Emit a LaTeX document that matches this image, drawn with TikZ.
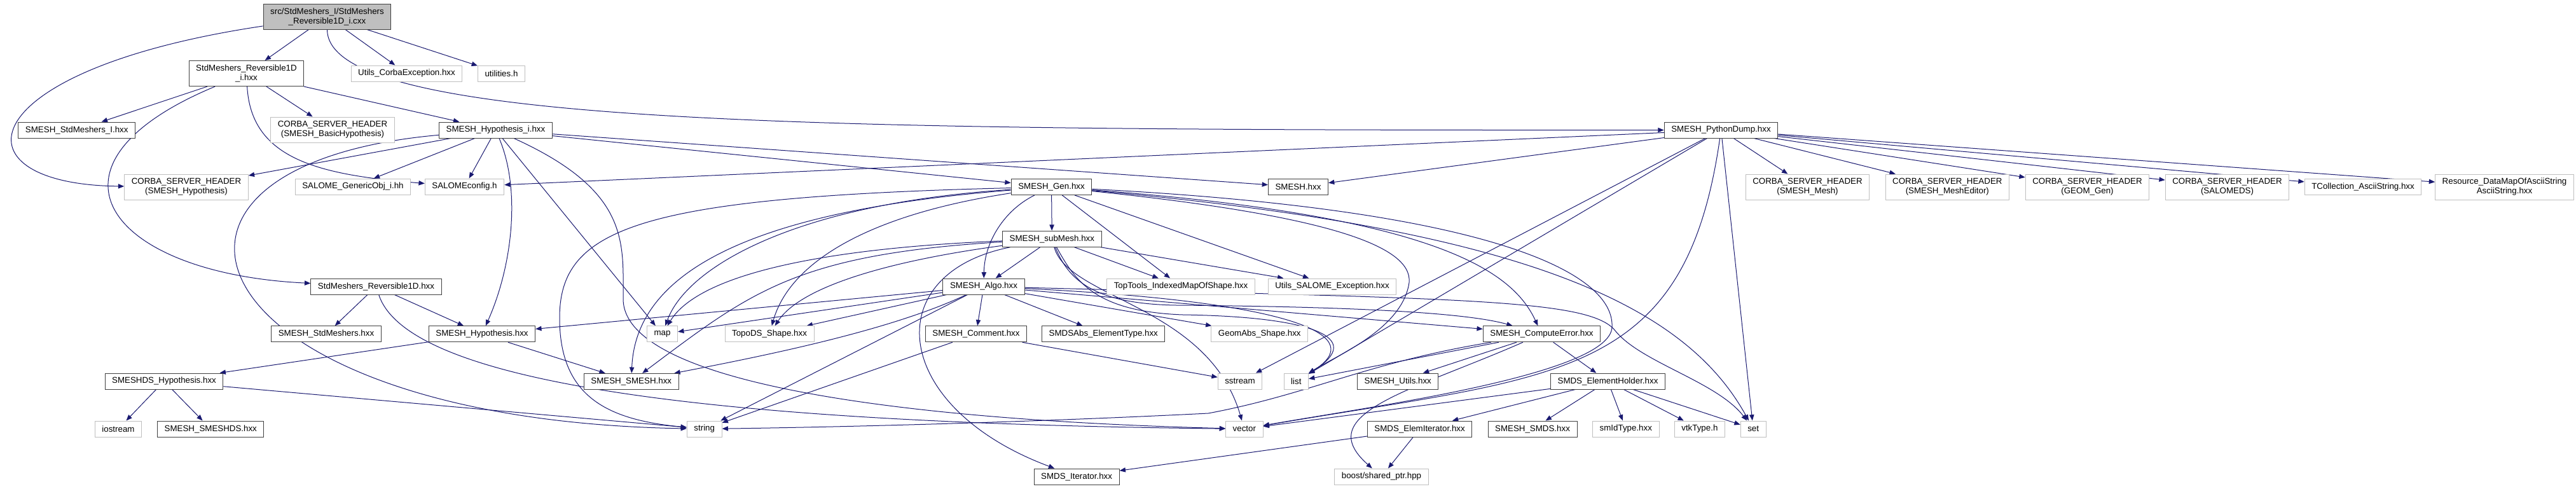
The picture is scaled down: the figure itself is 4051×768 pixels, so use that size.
\documentclass[tikz,border=0pt]{standalone}
\usepackage{fontspec}
\setmainfont{Liberation Sans}
\usetikzlibrary{arrows.meta,backgrounds}

\definecolor{edgeblue}{HTML}{191970}
\definecolor{boxgray}{HTML}{BFBFBF}
\definecolor{boxdark}{HTML}{404040}

\tikzstyle{hdrfile} = [rectangle, draw=boxdark, fill=white, line width=0.75pt, font=\fontsize{10}{11.25}\selectfont, align=center, inner xsep=8.3pt, inner ysep=1pt, minimum height=18.75pt]
\tikzstyle{extfile} = [hdrfile, draw=boxgray]
\tikzstyle{srcfile} = [hdrfile, fill=boxgray]
\tikzstyle{twoline} = [minimum height=30pt]
\tikzstyle{arrow} = [->, >={Triangle[length=7pt,width=5.5pt]}, draw=edgeblue, line width=0.75pt]

\begin{document}
\begin{tikzpicture}[x=0.75pt, y=-0.75pt]
	\useasboundingbox (0,0) rectangle (4051,768);

	\node (cxx) [srcfile, twoline] at (514.5,26) {src/StdMeshers\_I/StdMeshers\\\_Reversible1D\_i.cxx};

	\node (revI) [hdrfile, twoline] at (387.5,115.5) {StdMeshers\_Reversible1D\\\_i.hxx};
	\node (corbaExc) [extfile] at (639.5,115.5) {Utils\_CorbaException.hxx};
	\node (utilities) [extfile] at (788.5,115.5) {utilities.h};

	\node (stdMeshersI) [hdrfile] at (120.75,204.5) {SMESH\_StdMeshers\_I.hxx};
	\node (corbaBasicHyp) [extfile, twoline] at (523,204) {CORBA\_SERVER\_HEADER\\(SMESH\_BasicHypothesis)};
	\node (hypI) [hdrfile] at (779.5,204.5) {SMESH\_Hypothesis\_i.hxx};
	\node (pyDump) [hdrfile] at (2706.5,204.5) {SMESH\_PythonDump.hxx};

	\node (corbaHyp) [extfile, twoline] at (293,294) {CORBA\_SERVER\_HEADER\\(SMESH\_Hypothesis)};
	\node (genericObj) [extfile] at (555,293.5) {SALOME\_GenericObj\_i.hh};
	\node (salomeConfig) [extfile] at (730.5,293.5) {SALOMEconfig.h};
	\node (gen) [hdrfile] at (1653.5,294) {SMESH\_Gen.hxx};
	\node (smeshH) [hdrfile] at (2041.5,294) {SMESH.hxx};
	\node (corbaMesh) [extfile, twoline] at (2842.5,294) {CORBA\_SERVER\_HEADER\\(SMESH\_Mesh)};
	\node (corbaEditor) [extfile, twoline] at (3062.3,294) {CORBA\_SERVER\_HEADER\\(SMESH\_MeshEditor)};
	\node (corbaGeom) [extfile, twoline] at (3282.5,294) {CORBA\_SERVER\_HEADER\\(GEOM\_Gen)};
	\node (corbaSalomeDS) [extfile, twoline] at (3502.5,294) {CORBA\_SERVER\_HEADER\\(SALOMEDS)};
	\node (tColl) [extfile] at (3716,294) {TCollection\_AsciiString.hxx};
	\node (resource) [extfile, twoline] at (3938.5,294) {Resource\_DataMapOfAsciiString\\AsciiString.hxx};

	\node (subMesh) [hdrfile] at (1654.3,375.75) {SMESH\_subMesh.hxx};

	\node (rev) [hdrfile] at (591.5,450.5) {StdMeshers\_Reversible1D.hxx};
	\node (algo) [hdrfile] at (1547,450.5) {SMESH\_Algo.hxx};
	\node (topTools) [extfile] at (1857,450.5) {TopTools\_IndexedMapOfShape.hxx};
	\node (salomeExc) [extfile] at (2095,450.5) {Utils\_SALOME\_Exception.hxx};

	\node (stdMeshers) [hdrfile] at (513,525.3) {SMESH\_StdMeshers.hxx};
	\node (hyp) [hdrfile] at (758,525.3) {SMESH\_Hypothesis.hxx};
	\node (map) [extfile] at (1041.5,525.3) {map};
	\node (topoDS) [extfile] at (1210,525.3) {TopoDS\_Shape.hxx};
	\node (comment) [hdrfile] at (1535,525.3) {SMESH\_Comment.hxx};
	\node (elemType) [hdrfile] at (1735.3,525.3) {SMDSAbs\_ElementType.hxx};
	\node (geomAbs) [extfile] at (1980.8,525.3) {GeomAbs\_Shape.hxx};
	\node (computeError) [hdrfile] at (2424.5,525.3) {SMESH\_ComputeError.hxx};

	\node (dsHyp) [hdrfile] at (258,599.5) {SMESHDS\_Hypothesis.hxx};
	\node (smeshSmesh) [hdrfile] at (992.75,599.85) {SMESH\_SMESH.hxx};
	\node (sstream) [extfile] at (1950,599.5) {sstream};
	\node (list) [extfile] at (2038.3,599.5) {list};
	\node (utils) [hdrfile] at (2198.25,599.5) {SMESH\_Utils.hxx};
	\node (elemHolder) [hdrfile] at (2528.5,599.5) {SMDS\_ElementHolder.hxx};

	\node (iostream) [extfile] at (186,674.5) {iostream};
	\node (smeshDS) [hdrfile] at (331.3,674.5) {SMESH\_SMESHDS.hxx};
	\node (string) [extfile] at (1107.75,674.5) {string};
	\node (vector) [extfile] at (1956.8,674.5) {vector};
	\node (elemIter) [hdrfile] at (2232.6,674.5) {SMDS\_ElemIterator.hxx};
	\node (smeshSMDS) [hdrfile] at (2410,674.5) {SMESH\_SMDS.hxx};
	\node (smIdType) [extfile] at (2556.8,674.5) {smIdType.hxx};
	\node (vtkType) [extfile] at (2672.85,674.5) {vtkType.h};
	\node (set) [extfile] at (2757.15,674.5) {set};

	\node (smdsIter) [hdrfile] at (1693.1,749.5) {SMDS\_Iterator.hxx};
	\node (boost) [extfile] at (2172.5,749.5) {boost/shared\_ptr.hpp};

	\begin{scope}[on background layer]
	\draw [arrow] (cxx) -- (revI);
	\draw [arrow] (cxx) .. controls (-50,110) and (-80,290) .. (corbaHyp);
	\draw [arrow] (cxx) -- (corbaExc);
	\draw [arrow] (cxx) -- (utilities);
	\draw [arrow] (cxx) .. controls (515,200) and (1300,205) .. (pyDump);

	\draw [arrow] (revI) -- (stdMeshersI);
	\draw [arrow] (revI) -- (corbaBasicHyp);
	\draw [arrow] (revI) -- (hypI);
	\draw [arrow] (revI) .. controls (40,260) and (170,430) .. (rev);
	\draw [arrow] (revI) .. controls (395,250) and (500,275) .. (salomeConfig);

	\draw [arrow] (hypI) -- (corbaHyp);
	\draw [arrow] (hypI) .. controls (150,260) and (300,660) .. (string);
	\draw [arrow] (hypI) -- (genericObj);
	\draw [arrow] (hypI) -- (salomeConfig);
	\draw [arrow] (hypI) .. controls (820,300) and (805,420) .. (hyp);
	\draw [arrow] (hypI) -- (map);
	\draw [arrow] (hypI) .. controls (990,300) and (980,380) .. (980,470) .. controls (980,600) and (1400,660) .. (vector);
	\draw [arrow] (hypI) -- (smeshH);
	\draw [arrow] (hypI) -- (gen);

	\draw [arrow] (pyDump) -- (salomeConfig);
	\draw [arrow] (pyDump) -- (smeshH);
	\draw [arrow] (pyDump) -- (corbaMesh);
	\draw [arrow] (pyDump) -- (corbaEditor);
	\draw [arrow] (pyDump) -- (corbaGeom);
	\draw [arrow] (pyDump) -- (corbaSalomeDS);
	\draw [arrow] (pyDump) -- (tColl);
	\draw [arrow] (pyDump) -- (resource);
	\draw [arrow] (pyDump) -- (sstream);
	\draw [arrow] (pyDump) -- (list);
	\draw [arrow] (pyDump) .. controls (2650,600) and (2450,590) .. (vector);
	\draw [arrow] (pyDump) -- (set);

	\draw [arrow] (gen) -- (subMesh);
	\draw [arrow] (gen) .. controls (1580,330) and (1548,380) .. (algo);
	\draw [arrow] (gen) -- (topTools);
	\draw [arrow] (gen) -- (salomeExc);
	\draw [arrow] (gen) .. controls (2270,340) and (2380,430) .. (computeError);
	\draw [arrow] (gen) .. controls (2400,360) and (2650,480) .. (set);
	\draw [arrow] (gen) .. controls (2100,340) and (2230,390) .. (2215,450) .. controls (2200,520) and (2100,560) .. (list);
	\draw [arrow] (gen) .. controls (2350,330) and (2540,430) .. (2535,515) .. controls (2530,590) and (2150,640) .. (vector);
	\draw [arrow] (gen) .. controls (1250,320) and (1080,420) .. (map);
	\draw [arrow] (gen) .. controls (1000,310) and (880,360) .. (880,500) .. controls (880,620) and (950,660) .. (string);
	\draw [arrow] (gen) .. controls (1350,340) and (1240,420) .. (topoDS);
	\draw [arrow] (gen) .. controls (1200,330) and (1000,420) .. (smeshSmesh);

	\draw [arrow] (subMesh) -- (algo);
	\draw [arrow] (subMesh) -- (topTools);
	\draw [arrow] (subMesh) -- (salomeExc);
	\draw [arrow] (subMesh) .. controls (1680,440) and (1720,478) .. (1850,480) .. controls (2100,482) and (2300,490) .. (computeError);
	\draw [arrow] (subMesh) .. controls (1300,390) and (1100,430) .. (map);
	\draw [arrow] (subMesh) .. controls (1400,410) and (1260,450) .. (topoDS);
	\draw [arrow] (subMesh) .. controls (1250,400) and (1180,460) .. (smeshSmesh);
	\draw [arrow] (subMesh) .. controls (1690,440) and (1720,490) .. (1860,495) .. controls (2060,498) and (2150,530) .. (list);
	\draw [arrow] (subMesh) .. controls (1680,470) and (1900,480) .. (vector);
	\draw [arrow] (subMesh) .. controls (1380,430) and (1400,640) .. (smdsIter);

	\draw [arrow] (algo) -- (hyp);
	\draw [arrow] (algo) -- (map);
	\draw [arrow] (algo) -- (topoDS);
	\draw [arrow] (algo) .. controls (1400,520) and (1200,560) .. (smeshSmesh);
	\draw [arrow] (algo) -- (string);
	\draw [arrow] (algo) -- (comment);
	\draw [arrow] (algo) -- (elemType);
	\draw [arrow] (algo) -- (geomAbs);
	\draw [arrow] (algo) -- (computeError);
	\draw [arrow] (algo) .. controls (2050,475) and (2150,530) .. (list);
	\draw [arrow] (algo) .. controls (2300,470) and (2500,470) .. (2540,520) .. controls (2580,570) and (2700,600) .. (set);

	\draw [arrow] (comment) -- (string);
	\draw [arrow] (comment) -- (sstream);

	\draw [arrow] (rev) -- (stdMeshers);
	\draw [arrow] (rev) -- (hyp);
	\draw [arrow] (rev) .. controls (640,600) and (1100,665) .. (vector);

	\draw [arrow] (hyp) -- (dsHyp);
	\draw [arrow] (hyp) -- (smeshSmesh);

	\draw [arrow] (dsHyp) -- (iostream);
	\draw [arrow] (dsHyp) -- (smeshDS);
	\draw [arrow] (dsHyp) -- (string);

	\draw [arrow] (computeError) -- (utils);
	\draw [arrow] (computeError) -- (elemHolder);
	\draw [arrow] (computeError) .. controls (2220,615) and (2060,650) .. (boost);
	\draw [arrow] (computeError) -- (list);
	\draw [arrow] (computeError) .. controls (2150,570) and (2060,620) .. (1900,650) .. controls (1600,665) and (1300,672) .. (string);

	\draw [arrow] (elemHolder) -- (elemIter);
	\draw [arrow] (elemHolder) -- (smeshSMDS);
	\draw [arrow] (elemHolder) -- (smIdType);
	\draw [arrow] (elemHolder) -- (vtkType);
	\draw [arrow] (elemHolder) -- (set);
	\draw [arrow] (elemHolder) -- (vector);

	\draw [arrow] (elemIter) -- (smdsIter);
	\draw [arrow] (elemIter) -- (boost);
	\end{scope}
\end{tikzpicture}
\end{document}
